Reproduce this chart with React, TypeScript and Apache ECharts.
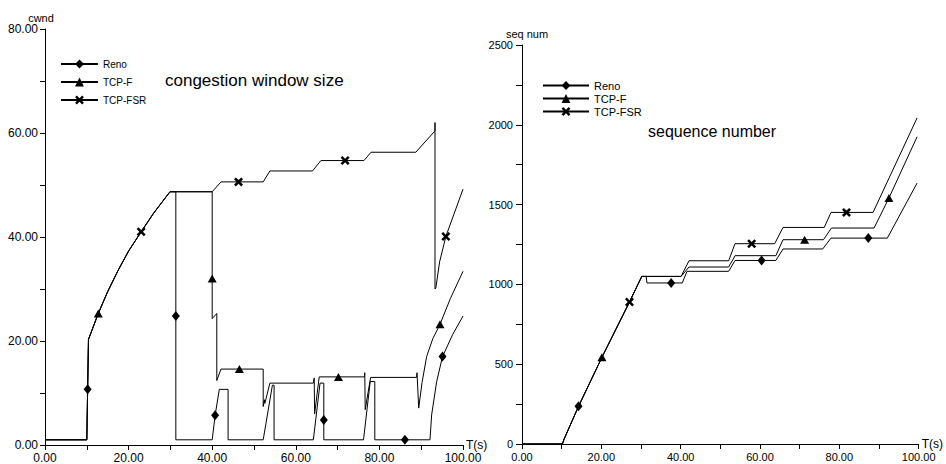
import React, { useEffect, useRef } from "react";
import * as echarts from "echarts";

// ---- data: [x, y] ; a third element 1 marks a point drawn with the series marker ----
const seriesNames = ["Reno", "TCP-F", "TCP-FSR"];

const renoCwnd = [
  [0, 1], [10, 1], [10.2, 10.7, 1], [10.4, 20.3], [12.75, 25.3], [15, 29.5], [17.5, 33.6], [20, 37.3],
  [23, 41], [26, 44.6], [29.9, 48.7], [31.3, 48.7], [31.3, 24.8, 1], [31.3, 1], [40, 1], [40.7, 5.7, 1],
  [41.7, 10.7], [43.8, 10.7], [43.8, 1], [52.2, 1], [54.4, 11.5], [54.8, 11.5], [54.8, 1], [64.2, 1],
  [65.8, 11.9], [66.7, 11.9], [66.7, 4.8, 1], [66.7, 1], [76.2, 1], [77.8, 12.2], [78.9, 12.2], [78.9, 1],
  [86.1, 1, 1], [92.1, 1], [92.5, 5.8], [93.7, 12.2], [95.1, 17, 1], [97.5, 21.2], [100, 24.8],
];
const tcpfCwnd = [
  [0, 1], [10, 1], [10.4, 20.3], [12.75, 25.3, 1], [15, 29.5], [17.5, 33.6], [20, 37.3], [23, 41],
  [26, 44.6], [29.9, 48.7], [40, 48.7], [40, 32, 1], [40, 24.3], [41.1, 25.3], [41.1, 12.4], [42.1, 14.6],
  [46.5, 14.6, 1], [52.2, 14.6], [52.2, 7.4], [52.5, 8.7], [52.6, 8], [53.8, 11.9], [64.2, 11.9],
  [64.4, 12.9], [64.5, 6], [65.6, 13.1], [70.2, 13.1, 1], [76.4, 13.1], [76.5, 13.9], [76.6, 6.8],
  [77.9, 13], [88.9, 13], [89.0, 13.9], [89.4, 7.1], [90.2, 12], [91.3, 17], [92.8, 20.5],
  [94.5, 23.2, 1], [97, 28.2], [100, 33.4],
];
const fsrCwnd = [
  [0, 1], [10, 1], [10.4, 20.3], [12.75, 25.3], [15, 29.5], [17.5, 33.6], [20, 37.3], [23, 41, 1],
  [26, 44.6], [29.9, 48.7], [40, 48.7], [42.1, 50.6], [46.3, 50.6, 1], [52.2, 50.6], [53.8, 52.7],
  [64, 52.7], [66, 54.7], [71.8, 54.7, 1], [76.3, 54.7], [78, 56.3], [88.7, 56.3], [93.3, 60.4],
  [93.3, 62], [93.3, 30], [93.5, 30.2], [94.4, 35.2], [95.9, 40.1, 1], [100, 49.2],
];

const renoSeq = [
  [0, 0], [10.2, 0], [10.6, 30], [14.25, 236, 1], [20.15, 543], [27.1, 890], [30.2, 1050], [31.3, 1050],
  [31.5, 1009], [37.6, 1009, 1], [40.4, 1009], [41.6, 1082], [52.1, 1082], [53.7, 1150], [60.4, 1150, 1],
  [64, 1150], [65.8, 1222], [75.8, 1222], [77.9, 1290], [87.3, 1290, 1], [92.1, 1290], [99.6, 1635],
];
const tcpfSeq = [
  [0, 0], [10.2, 0], [10.6, 30], [14.25, 236], [20.15, 543, 1], [27.1, 890], [30.2, 1050], [40.1, 1050],
  [42.1, 1109], [52.1, 1109], [53.7, 1180], [64, 1180], [65.8, 1280], [71.25, 1280, 1], [76, 1280],
  [78, 1353], [88.75, 1353], [92.5, 1541, 1], [99.6, 1925],
];
const fsrSeq = [
  [0, 0], [10.2, 0], [10.6, 30], [14.25, 236], [20.15, 543], [27.1, 890, 1], [30.2, 1050], [40.1, 1050],
  [42.1, 1148], [52.1, 1148], [53.7, 1255], [57.9, 1255, 1], [63.7, 1255], [65.8, 1357], [76.2, 1357],
  [77.9, 1451], [81.8, 1451, 1], [88.5, 1451], [99.6, 2043],
];

const FONT = "'Liberation Sans', Arial, Helvetica, sans-serif";
const X_MARK = "path://M0,2 L2,0 L5,3 L8,0 L10,2 L7,5 L10,8 L8,10 L5,7 L2,10 L0,8 L3,5 Z";
const symbols = ["diamond", "triangle", X_MARK];
const symbolSizes: any[] = [[8, 10], [9, 8], [9, 9]];

function toData(pts: number[][]) {
  return pts.map((p) => (p.length > 2 ? { value: [p[0], p[1]] } : { value: [p[0], p[1]], symbol: "none" }));
}

function makeSeries(name: string, idx: number, pts: number[][], axis: number) {
  return {
    type: "line",
    name,
    xAxisIndex: axis,
    yAxisIndex: axis,
    data: toData(pts),
    symbol: symbols[idx],
    symbolSize: symbolSizes[idx],
    showAllSymbol: true,
    smooth: false,
    lineStyle: { color: "#000", width: 1 },
    itemStyle: { color: "#000" },
    emphasis: { disabled: true },
    z: 3,
  };
}

export default function App() {
  const ref = useRef<HTMLDivElement>(null);
  useEffect(() => {
    if (!ref.current) return;
    const chart = echarts.init(ref.current, undefined, { renderer: "svg" });
    const axisLine = { show: true, lineStyle: { color: "#000", width: 1 } };
    const xAxisBase = (fs: number) => ({
      type: "value",
      min: 0,
      max: 100,
      interval: 10,
      name: "T(s)",
      nameLocation: "end",
      nameGap: 3,
      nameTextStyle: { color: "#000", fontFamily: FONT, fontSize: 12 },
      axisLine,
      axisTick: { show: true, length: 5, lineStyle: { color: "#000", width: 1 } },
      axisLabel: {
        color: "#000",
        fontFamily: FONT,
        fontSize: fs,
        margin: 7,
        showMaxLabel: true,
        showMinLabel: true,
        formatter: (v: number) => (v % 20 === 0 ? v.toFixed(2) : ""),
      },
      splitLine: { show: false },
    });
    const option: any = {
      animation: false,
      backgroundColor: "#fff",
      title: [
        {
          text: "congestion window size",
          left: 160,
          top: 67,
          textStyle: { fontFamily: FONT, fontSize: 17, fontWeight: "normal", color: "#000" },
        },
        {
          text: "sequence number",
          left: 643,
          top: 118,
          textStyle: { fontFamily: FONT, fontSize: 16, fontWeight: "normal", color: "#000" },
        },
      ],
      legend: [
        {
          data: seriesNames,
          orient: "vertical",
          left: 55,
          top: 54,
          itemWidth: 37,
          itemHeight: 11,
          itemGap: 8,
          selectedMode: false,
          textStyle: { fontFamily: FONT, fontSize: 10, color: "#000" },
        },
        {
          data: seriesNames,
          orient: "vertical",
          left: 537,
          top: 75,
          itemWidth: 46,
          itemHeight: 11,
          itemGap: 2,
          selectedMode: false,
          textStyle: { fontFamily: FONT, fontSize: 11, color: "#000" },
        },
      ],
      grid: [
        { left: 45, top: 29, width: 418, height: 418 },
        { left: 522, top: 45, width: 400, height: 399 },
      ],
      xAxis: [
        { ...xAxisBase(12), gridIndex: 0 },
        { ...xAxisBase(11), gridIndex: 1 },
      ],
      yAxis: [
        {
          type: "value",
          gridIndex: 0,
          min: 0,
          max: 80,
          interval: 10,
          name: "cwnd",
          nameLocation: "end",
          nameGap: 5,
          nameTextStyle: { color: "#000", fontFamily: FONT, fontSize: 11, padding: [0, 8, 0, 0] },
          axisLine,
          axisTick: { show: true, length: 5, lineStyle: { color: "#000", width: 1 } },
          axisLabel: {
            color: "#000",
            fontFamily: FONT,
            fontSize: 12,
            margin: 7,
            formatter: (v: number) => (v % 20 === 0 ? v.toFixed(2) : ""),
          },
          splitLine: { show: false },
        },
        {
          type: "value",
          gridIndex: 1,
          min: 0,
          max: 2500,
          interval: 250,
          name: "seq num",
          nameLocation: "end",
          nameGap: 4,
          nameTextStyle: { color: "#000", fontFamily: FONT, fontSize: 11, padding: [0, 0, 0, 10] },
          axisLine,
          axisTick: { show: true, length: 6, lineStyle: { color: "#000", width: 1 } },
          axisLabel: {
            color: "#000",
            fontFamily: FONT,
            fontSize: 11,
            margin: 9,
            formatter: (v: number) => (v % 500 === 0 ? String(v) : ""),
          },
          splitLine: { show: false },
        },
      ],
      series: [
        makeSeries("Reno", 0, renoCwnd, 0),
        makeSeries("TCP-F", 1, tcpfCwnd, 0),
        makeSeries("TCP-FSR", 2, fsrCwnd, 0),
        makeSeries("Reno", 0, renoSeq, 1),
        makeSeries("TCP-F", 1, tcpfSeq, 1),
        makeSeries("TCP-FSR", 2, fsrSeq, 1),
      ],
    };
    chart.setOption(option);
    return () => chart.dispose();
  }, []);
  return (
    <div
      ref={ref}
      style={{ position: "fixed", left: 0, top: 0, width: 946, height: 464, background: "#fff" }}
    />
  );
}
